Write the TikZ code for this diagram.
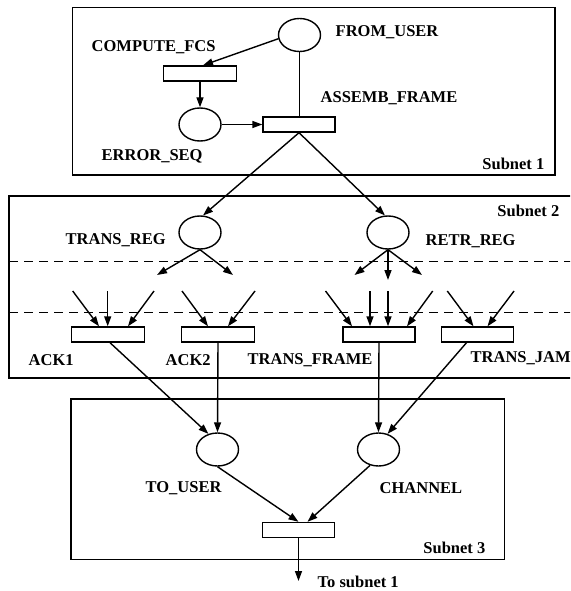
\documentclass[tikz,border=0pt]{standalone}
\usepackage{fontspec}
\setmainfont{Liberation Serif}
\usetikzlibrary{arrows.meta,shapes.geometric}
\begin{document}
\begin{tikzpicture}[x=1pt,y=-1pt,line width=1.4pt,
  place/.style={ellipse,draw,minimum width=42pt,minimum height=33pt,inner sep=0pt},
  trans/.style={rectangle,draw,minimum width=72pt,minimum height=15pt,inner sep=0pt},
  lbl/.style={font=\fontsize{16.5}{18}\selectfont\bfseries,inner sep=0pt,anchor=west},
  arr/.style={-{Triangle[length=10pt,width=7pt]}},
  subnet/.style={draw},
  sep/.style={dash pattern=on 9pt off 6pt}]
\useasboundingbox (0,0) rectangle (570,591);
\fill[white] (0,0) rectangle (570,591);
\clip (0,0) rectangle (570,591);

% subnet frames
\draw[subnet] (72.7,7.5) rectangle (555,175);
\draw[subnet] (9,196) rectangle (590,378);
\draw[subnet] (71,399) rectangle (504.5,559.5);
\draw[sep] (9,261.7) -- (575,261.7);
\draw[sep] (9,312.7) -- (575,312.7);

% places and transitions
\node[place] (fu) at (299.5,35) {};
\node[trans,minimum width=73pt] (cf) at (200,73.5) {};
\node[place] (es) at (200,124.5) {};
\node[trans] (af) at (299,124.5) {};
\node[place] (tr) at (200,232.5) {};
\node[place] (rr) at (388,232.5) {};
\node[trans,minimum width=73pt] (ack1) at (108,334.5) {};
\node[trans,minimum width=73pt] (ack2) at (218,334.5) {};
\node[trans] (tf) at (379,334.5) {};
\node[trans] (tj) at (477.5,334.5) {};
\node[place] (tu) at (217.5,449.5) {};
\node[place] (ch) at (378.5,449.5) {};
\node[trans] (ot) at (298.5,530) {};

% labels
\node[lbl] (lfu) at (335,32) {FROM\_USER};
\node[lbl] (lcf) at (91,47) {COMPUTE\_FCS};
\node[lbl] (laf) at (320,98.5) {ASSEMB\_FRAME};
\node[lbl] (les) at (101,156) {ERROR\_SEQ};
\node[lbl,anchor=east] (ls1) at (545,163.5) {Subnet 1};
\node[lbl] (ls2) at (496.7,211) {Subnet 2};
\node[lbl] (ltr) at (65,240) {TRANS\_REG};
\node[lbl] (lrr) at (425,241) {RETR\_REG};
\node[lbl] (la1) at (28,360) {ACK1};
\node[lbl] (la2) at (165,360) {ACK2};
\node[lbl] (ltf) at (247,360) {TRANS\_FRAME};
\node[lbl] (ltj) at (470,358.5) {TRANS\_JAM};
\node[lbl] (ltu) at (145,488) {TO\_USER};
\node[lbl] (lch) at (379,488) {CHANNEL};
\node[lbl] (ls3) at (422.7,548) {Subnet 3};
\node[lbl] (lts) at (317,582) {To subnet 1};

% free ends
\coordinate (t1) at (157,275);
\coordinate (t2) at (233,275);
\coordinate (r1) at (354.5,275);
\coordinate (r2) at (388,280);
\coordinate (r3) at (422,275);
\coordinate (a1) at (72.7,291);
\coordinate (a2) at (107.7,291);
\coordinate (a3) at (154,291);
\coordinate (b1) at (182,291);
\coordinate (b2) at (255,291);
\coordinate (f1) at (325.5,291);
\coordinate (f2) at (370,291);
\coordinate (f3) at (388,291);
\coordinate (f4) at (432.7,291);
\coordinate (j1) at (447.3,291);
\coordinate (j2) at (514,291);
\coordinate (dn) at (298.5,581);

% subnet 1
\draw[arr] (fu.190) -- ([xshift=3pt]cf.north);
\draw (fu.south) -- (fu.south |- af.north);
\draw[arr] (cf.south) -- (es.north);
\draw[arr] (es.east) -- (af.west);
\draw[arr] (af.south) -- (tr.80);
\draw[arr] (af.south) -- (rr.100);

% subnet 2
\draw[arr] (tr.south) -- (t1);
\draw[arr] (tr.south) -- (t2);
\draw[arr] (rr.south) -- (r1);
\draw[arr] (rr.south) -- (r2);
\draw[arr] (rr.south) -- (r3);
\draw[arr] (a1) -- ([xshift=-9pt]ack1.north);
\draw[arr] (a2) -- (a2 |- ack1.north);
\draw[arr] (a3) -- ([xshift=20pt]ack1.north);
\draw[arr] (b1) -- ([xshift=-10pt]ack2.north);
\draw[arr] (b2) -- ([xshift=10pt]ack2.north);
\draw[arr] (f1) -- ([xshift=-27pt]tf.north);
\draw[arr] (f2) -- ([xshift=-9pt]tf.north);
\draw[arr] (f3) -- ([xshift=9pt]tf.north);
\draw[arr] (f4) -- ([xshift=28pt]tf.north);
\draw[arr] (j1) -- ([xshift=-4pt]tj.north);
\draw[arr] (j2) -- ([xshift=10pt]tj.north);

% to subnet 3
\draw[arr] ([xshift=2pt]ack1.south) -- (tu.120);
\draw[arr] (ack2.south) -- (tu.north);
\draw[arr] (tf.south) -- (ch.north);
\draw[arr] ([xshift=-11pt]tj.south) -- (ch.60);
\draw[arr] (tu.south) -- (ot.north);
\draw[arr] (ch.-118) -- ([xshift=9pt]ot.north);
\draw[arr] (ot.south) -- (dn);
\end{tikzpicture}
\end{document}
